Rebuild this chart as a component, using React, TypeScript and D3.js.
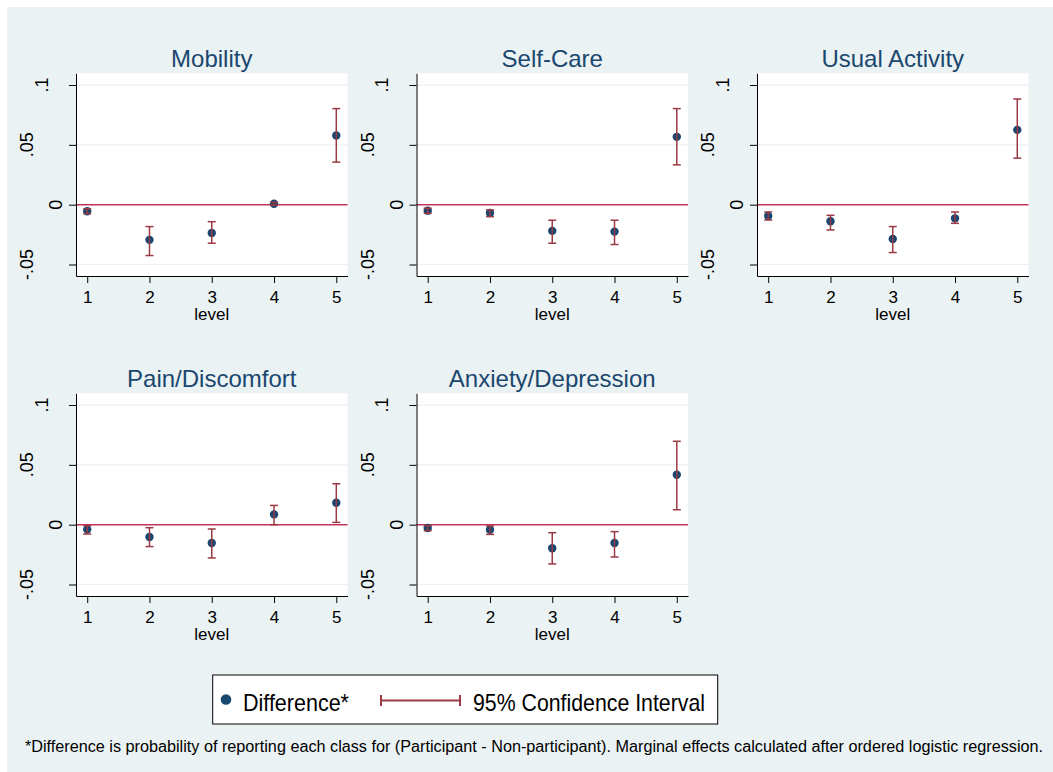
import React, { useEffect, useRef } from 'react';
import * as d3 from 'd3';

const panelTitles = ['Mobility', 'Self-Care', 'Usual Activity', 'Pain/Discomfort', 'Anxiety/Depression'];
const levels = [1, 2, 3, 4, 5];

const mobilityDiff = [-0.0055, -0.0294, -0.0236, 0.0008, 0.0578];
const mobilityLo = [-0.0075, -0.0425, -0.0322, -0.0005, 0.0356];
const mobilityHi = [-0.0035, -0.0183, -0.0142, 0.002, 0.0803];

const selfCareDiff = [-0.005, -0.0069, -0.0219, -0.0225, 0.0567];
const selfCareLo = [-0.0072, -0.01, -0.0322, -0.0333, 0.0333];
const selfCareHi = [-0.003, -0.0044, -0.013, -0.013, 0.0803];

const usualDiff = [-0.0094, -0.0139, -0.0286, -0.0114, 0.0625];
const usualLo = [-0.0128, -0.0211, -0.04, -0.0156, 0.0389];
const usualHi = [-0.0061, -0.0089, -0.0183, -0.0061, 0.0883];

const painDiff = [-0.0039, -0.0103, -0.0153, 0.0086, 0.0183];
const painLo = [-0.0078, -0.0183, -0.0278, 0.0, 0.0019];
const painHi = [-0.0008, -0.0025, -0.0036, 0.0161, 0.0342];

const anxietyDiff = [-0.0028, -0.0042, -0.0197, -0.0153, 0.0417];
const anxietyLo = [-0.005, -0.0081, -0.0328, -0.027, 0.0125];
const anxietyHi = [-0.0008, -0.0011, -0.0067, -0.0058, 0.0697];

const yTicks = [-0.05, 0, 0.05, 0.1];
const yTickLabels = ['-.05', '0', '.05', '.1'];

const legendLabels = ['Difference*', '95% Confidence Interval'];
const footnote = '*Difference is probability of reporting each class for (Participant - Non-participant). Marginal effects calculated after ordered logistic regression.';

const W = 1053;
const H = 772;
const FONT = '"Liberation Sans", Arial, Helvetica, sans-serif';
const BG = '#EAF2F3';
const NAVY = '#1A476F';
const MAROON = '#9a3a44';
const ZERO = '#c4345a';

const App: React.FC = () => {
  const svgRef = useRef<SVGSVGElement>(null);

  useEffect(() => {
    if (!svgRef.current) return;
    const svg = d3.select(svgRef.current);
    svg.selectAll('*').remove();

    // background with thin white border top/left
    svg.append('rect').attr('width', W).attr('height', H).attr('fill', '#fff');
    svg.append('rect').attr('x', 7).attr('y', 7).attr('width', W - 7).attr('height', H - 7).attr('fill', BG);

    const panelW = 271.5;
    const panelH = 202.7;
    const colX0 = 76;
    const colStep = 340.5;
    const rowY0 = 73.3;
    const rowStep = 320;

    const x = d3.scaleLinear().domain([0.82, 5.18]).range([0, panelW]);
    const y = d3.scaleLinear().domain([-0.0596, 0.1098]).range([panelH, 0]);

    const series = [
      { diff: mobilityDiff, lo: mobilityLo, hi: mobilityHi },
      { diff: selfCareDiff, lo: selfCareLo, hi: selfCareHi },
      { diff: usualDiff, lo: usualLo, hi: usualHi },
      { diff: painDiff, lo: painLo, hi: painHi },
      { diff: anxietyDiff, lo: anxietyLo, hi: anxietyHi },
    ];

    series.forEach((s, i) => {
      const col = i % 3;
      const row = Math.floor(i / 3);
      const g = svg.append('g')
        .attr('transform', `translate(${colX0 + col * colStep},${rowY0 + row * rowStep})`);

      g.append('rect').attr('width', panelW).attr('height', panelH).attr('fill', '#fff');

      // grid
      g.selectAll('.grid')
        .data(yTicks.filter(t => t !== 0))
        .enter().append('line')
        .attr('x1', 0).attr('x2', panelW)
        .attr('y1', d => y(d)).attr('y2', d => y(d))
        .attr('stroke', BG).attr('stroke-width', 1.2);

      // zero line
      g.append('line')
        .attr('x1', 0).attr('x2', panelW)
        .attr('y1', y(0)).attr('y2', y(0))
        .attr('stroke', ZERO).attr('stroke-width', 1.6);

      const pts = levels.map((lv, j) => ({ lv, d: s.diff[j], lo: s.lo[j], hi: s.hi[j] }));

      // markers
      g.selectAll('.pt')
        .data(pts)
        .enter().append('circle')
        .attr('cx', d => x(d.lv))
        .attr('cy', d => y(d.d))
        .attr('r', 4.2)
        .attr('fill', NAVY);

      // confidence intervals
      const ci = g.selectAll('.ci').data(pts).enter().append('g')
        .attr('stroke', MAROON).attr('stroke-width', 1.5).attr('fill', 'none');
      ci.append('line')
        .attr('x1', d => x(d.lv)).attr('x2', d => x(d.lv))
        .attr('y1', d => y(d.lo)).attr('y2', d => y(d.hi));
      ci.append('line')
        .attr('x1', d => x(d.lv) - 4).attr('x2', d => x(d.lv) + 4)
        .attr('y1', d => y(d.lo)).attr('y2', d => y(d.lo));
      ci.append('line')
        .attr('x1', d => x(d.lv) - 4).attr('x2', d => x(d.lv) + 4)
        .attr('y1', d => y(d.hi)).attr('y2', d => y(d.hi));

      // y axis
      const ya = g.append('g')
        .call(d3.axisLeft(y).tickValues(yTicks).tickSize(7).tickSizeOuter(0).tickFormat(() => ''));
      ya.selectAll('path, line').attr('stroke', '#000').attr('stroke-width', 1);
      ya.selectAll('text').remove();

      const capH = 0.716 * 18;
      yTicks.forEach((t, k) => {
        const lab = yTickLabels[k];
        const dist = Math.min(20.3 + 14.5 * (lab.length - 1), 49);
        g.append('text')
          .attr('transform', `translate(${-dist + capH / 2},${y(t)}) rotate(-90)`)
          .attr('text-anchor', 'middle')
          .style('font-family', FONT)
          .style('font-size', '18px')
          .style('fill', '#000')
          .text(lab);
      });

      // x axis
      const xa = g.append('g')
        .attr('transform', `translate(0,${panelH})`)
        .call(d3.axisBottom(x).tickValues(levels).tickSize(7).tickSizeOuter(0).tickFormat(d3.format('d')));
      xa.selectAll('path, line').attr('stroke', '#000').attr('stroke-width', 1);
      xa.selectAll('text')
        .attr('y', 26.8).attr('dy', 0)
        .style('font-family', FONT)
        .style('font-size', '17px')
        .style('fill', '#000');

      g.append('text')
        .attr('x', panelW / 2).attr('y', panelH + 44.5)
        .attr('text-anchor', 'middle')
        .style('font-family', FONT)
        .style('font-size', '17px')
        .style('fill', '#000')
        .text('level');

      // title
      g.append('text')
        .attr('x', panelW / 2).attr('y', -6.8)
        .attr('text-anchor', 'middle')
        .style('font-family', FONT)
        .style('font-size', '24px')
        .style('fill', NAVY)
        .text(panelTitles[i]);
    });

    // legend
    const lg = svg.append('g');
    lg.append('rect')
      .attr('x', 212.7).attr('y', 675).attr('width', 505).attr('height', 49)
      .attr('fill', '#fff').attr('stroke', '#000').attr('stroke-width', 1);
    lg.append('circle').attr('cx', 226).attr('cy', 699.5).attr('r', 5.3).attr('fill', NAVY);
    lg.append('text')
      .attr('x', 243).attr('y', 710.7)
      .attr('textLength', 106).attr('lengthAdjust', 'spacingAndGlyphs')
      .style('font-family', FONT).style('font-size', '24px').style('fill', '#000')
      .text(legendLabels[0]);
    const lci = lg.append('g').attr('stroke', MAROON).attr('stroke-width', 2);
    lci.append('line').attr('x1', 381).attr('x2', 460).attr('y1', 700.5).attr('y2', 700.5);
    lci.append('line').attr('x1', 381).attr('x2', 381).attr('y1', 695).attr('y2', 706);
    lci.append('line').attr('x1', 460).attr('x2', 460).attr('y1', 695).attr('y2', 706);
    lg.append('text')
      .attr('x', 473).attr('y', 710.7)
      .attr('textLength', 232).attr('lengthAdjust', 'spacingAndGlyphs')
      .style('font-family', FONT).style('font-size', '24px').style('fill', '#000')
      .text(legendLabels[1]);

    // footnote
    svg.append('text')
      .attr('x', 25).attr('y', 751.7)
      .attr('textLength', 1018).attr('lengthAdjust', 'spacingAndGlyphs')
      .style('font-family', FONT).style('font-size', '16px').style('fill', '#000')
      .text(footnote);
  }, []);

  return (
    <svg ref={svgRef} width={W} height={H}
      style={{ position: 'absolute', left: 0, top: 0, display: 'block' }} />
  );
};

export default App;
